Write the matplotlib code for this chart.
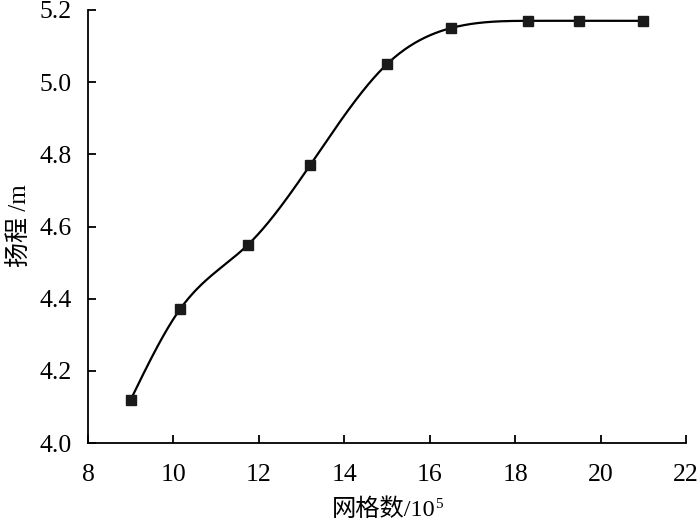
import numpy as np
import matplotlib
matplotlib.use("Agg")
import matplotlib.pyplot as plt

plt.rcParams['font.family'] = ['Liberation Serif', 'Noto Sans CJK SC']

grid_count = [9.0, 10.15, 11.75, 13.2, 15.0, 16.5, 18.3, 19.5, 21.0]
head = [4.12, 4.37, 4.55, 4.77, 5.05, 5.15, 5.17, 5.17, 5.17]
x_ticks = [8, 10, 12, 14, 16, 18, 20, 22]
y_ticks = [4.0, 4.2, 4.4, 4.6, 4.8, 5.0, 5.2]


def natural_spline(x, y, xs):
    x = np.asarray(x, float); y = np.asarray(y, float)
    n = len(x)
    h = np.diff(x)
    A = np.zeros((n, n)); b = np.zeros(n)
    A[0, 0] = 1; A[-1, -1] = 1
    for i in range(1, n - 1):
        A[i, i - 1] = h[i - 1]
        A[i, i] = 2 * (h[i - 1] + h[i])
        A[i, i + 1] = h[i]
        b[i] = 3 * ((y[i + 1] - y[i]) / h[i] - (y[i] - y[i - 1]) / h[i - 1])
    c = np.linalg.solve(A, b)
    bb = (y[1:] - y[:-1]) / h - h * (2 * c[:-1] + c[1:]) / 3
    d = (c[1:] - c[:-1]) / (3 * h)
    idx = np.clip(np.searchsorted(x, xs) - 1, 0, n - 2)
    dx = xs - x[idx]
    return y[idx] + bb[idx] * dx + c[idx] * dx ** 2 + d[idx] * dx ** 3


W, H = 700, 521
fig = plt.figure(figsize=(W / 100, H / 100), dpi=100)
ax = fig.add_axes([88 / W, 1 - 443 / H, (686 - 88) / W, (443 - 10) / H])

xs = np.linspace(grid_count[0], grid_count[-1], 400)
ax.plot(xs, natural_spline(grid_count, head, xs), color='black', lw=1.6)
ax.plot(grid_count, head, 's', color='#1a1a1a', markersize=6.8)

ax.set_xlim(8, 22)
ax.set_ylim(4.0, 5.2)
ax.set_xticks(x_ticks)
ax.set_yticks(y_ticks)
ax.set_yticklabels([f"{v:.1f}" for v in y_ticks])
for s in ['top', 'right']:
    ax.spines[s].set_visible(False)
for s in ['left', 'bottom']:
    ax.spines[s].set_linewidth(1.3)
ax.tick_params(direction='in', length=6, width=1.3, labelsize=18.5)
ax.tick_params(axis='x', pad=15)
ax.tick_params(axis='y', pad=12)

# x label with superscript built from two text pieces
main = fig.text(0, 0, '网格数/10', fontsize=17.5, ha='left', va='baseline')
fig.canvas.draw()
r = fig.canvas.get_renderer()
bb = main.get_window_extent(r)
sup_txt = fig.text(0, 0, '5', fontsize=11, ha='left', va='baseline')
sb = sup_txt.get_window_extent(r)
total = bb.width + sb.width
x0 = 387 - total / 2
base_y = H - 516
main.set_position((x0 / W, base_y / H))
sup_txt.set_position(((x0 + bb.width) / W, (base_y + 8) / H))

fig.text(20 / W, 1 - 226 / H, '扬程 /m', fontsize=18, rotation=90,
         ha='center', va='center')

fig.savefig('out.png', dpi=100)
